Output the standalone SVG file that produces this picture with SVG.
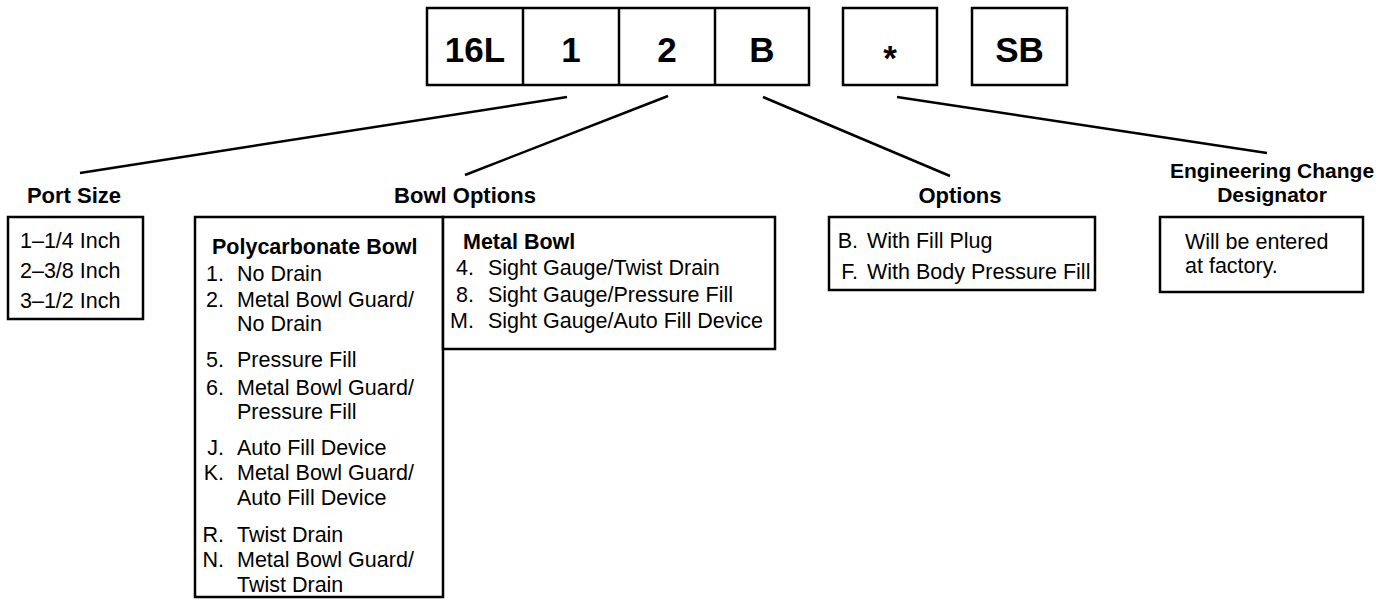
<svg xmlns="http://www.w3.org/2000/svg" width="1388" height="605" viewBox="0 0 1388 605">
<style>
.box{fill:#fff;stroke:#000;stroke-width:2.5}
.ln{stroke:#000;stroke-width:2.5;fill:none}
.code{font-family:"Liberation Sans",Arial,sans-serif;font-weight:bold;font-size:35px;text-anchor:middle}
.hd{font-family:"Liberation Sans",Arial,sans-serif;font-weight:bold;font-size:22px;text-anchor:middle}
.hd2{font-family:"Liberation Sans",Arial,sans-serif;font-weight:bold;font-size:21px;text-anchor:middle}
.sub{font-family:"Liberation Sans",Arial,sans-serif;font-weight:bold;font-size:21.5px}
.t{font-family:"Liberation Sans",Arial,sans-serif;font-size:21.5px}
.n{font-family:"Liberation Sans",Arial,sans-serif;font-size:21.5px;text-anchor:end}
</style>
<rect width="1388" height="605" fill="#fff"/>
<g id="code-main">
<rect class="box" x="427" y="8" width="382" height="77"/>
<line class="ln" x1="523" y1="8" x2="523" y2="85"/>
<line class="ln" x1="619" y1="8" x2="619" y2="85"/>
<line class="ln" x1="715" y1="8" x2="715" y2="85"/>
<text class="code" x="475" y="62">16L</text>
<text class="code" x="571" y="62">1</text>
<text class="code" x="667" y="62">2</text>
<text class="code" x="762" y="62">B</text>
</g>
<g id="code-star">
<rect class="box" x="843" y="8" width="94" height="77"/>
<text class="code" x="890" y="70">*</text>
</g>
<g id="code-sb">
<rect class="box" x="972" y="8" width="95" height="77"/>
<text class="code" x="1019.5" y="62">SB</text>
</g>
<g id="connectors">
<line class="ln" x1="567" y1="97" x2="80" y2="173"/>
<line class="ln" x1="668" y1="96" x2="465" y2="175"/>
<line class="ln" x1="763" y1="97" x2="950" y2="176"/>
<line class="ln" x1="897" y1="97" x2="1267" y2="153"/>
</g>
<g id="port-size">
<text class="hd" x="74" y="203">Port Size</text>
<rect class="box" x="8" y="217" width="135" height="102"/>
<text class="t" x="20" y="248">1–1/4 Inch</text>
<text class="t" x="20" y="278">2–3/8 Inch</text>
<text class="t" x="20" y="308">3–1/2 Inch</text>
</g>
<g id="bowl-options">
<text class="hd" x="465" y="203">Bowl Options</text>
<rect class="box" x="195" y="217" width="248" height="380"/>
<rect class="box" x="443" y="217" width="332" height="132"/>
<text class="sub" x="212" y="254">Polycarbonate Bowl</text>
<text class="n" x="224" y="281">1.</text><text class="t" x="237" y="281">No Drain</text>
<text class="n" x="224" y="307">2.</text><text class="t" x="237" y="307">Metal Bowl Guard/</text>
<text class="t" x="237" y="331">No Drain</text>
<text class="n" x="224" y="367">5.</text><text class="t" x="237" y="367">Pressure Fill</text>
<text class="n" x="224" y="395">6.</text><text class="t" x="237" y="395">Metal Bowl Guard/</text>
<text class="t" x="237" y="419">Pressure Fill</text>
<text class="n" x="224" y="455">J.</text><text class="t" x="237" y="455">Auto Fill Device</text>
<text class="n" x="224" y="480">K.</text><text class="t" x="237" y="480">Metal Bowl Guard/</text>
<text class="t" x="237" y="505">Auto Fill Device</text>
<text class="n" x="224" y="542">R.</text><text class="t" x="237" y="542">Twist Drain</text>
<text class="n" x="224" y="567">N.</text><text class="t" x="237" y="567">Metal Bowl Guard/</text>
<text class="t" x="237" y="592">Twist Drain</text>
<text class="sub" x="463" y="249">Metal Bowl</text>
<text class="n" x="474" y="275">4.</text><text class="t" x="488" y="275">Sight Gauge/Twist Drain</text>
<text class="n" x="474" y="302">8.</text><text class="t" x="488" y="302">Sight Gauge/Pressure Fill</text>
<text class="n" x="474" y="328">M.</text><text class="t" x="488" y="328">Sight Gauge/Auto Fill Device</text>
</g>
<g id="options">
<text class="hd" x="960" y="203">Options</text>
<rect class="box" x="829" y="217" width="266" height="73"/>
<text class="n" x="858" y="248">B.</text><text class="t" x="867" y="248">With Fill Plug</text>
<text class="n" x="858" y="279">F.</text><text class="t" x="867" y="279">With Body Pressure Fill</text>
</g>
<g id="engineering-change">
<text class="hd2" x="1272" y="178">Engineering Change</text>
<text class="hd2" x="1272" y="202">Designator</text>
<rect class="box" x="1160" y="217" width="203" height="75"/>
<text class="t" x="1185" y="249">Will be entered</text>
<text class="t" x="1185" y="273">at factory.</text>
</g>
</svg>
